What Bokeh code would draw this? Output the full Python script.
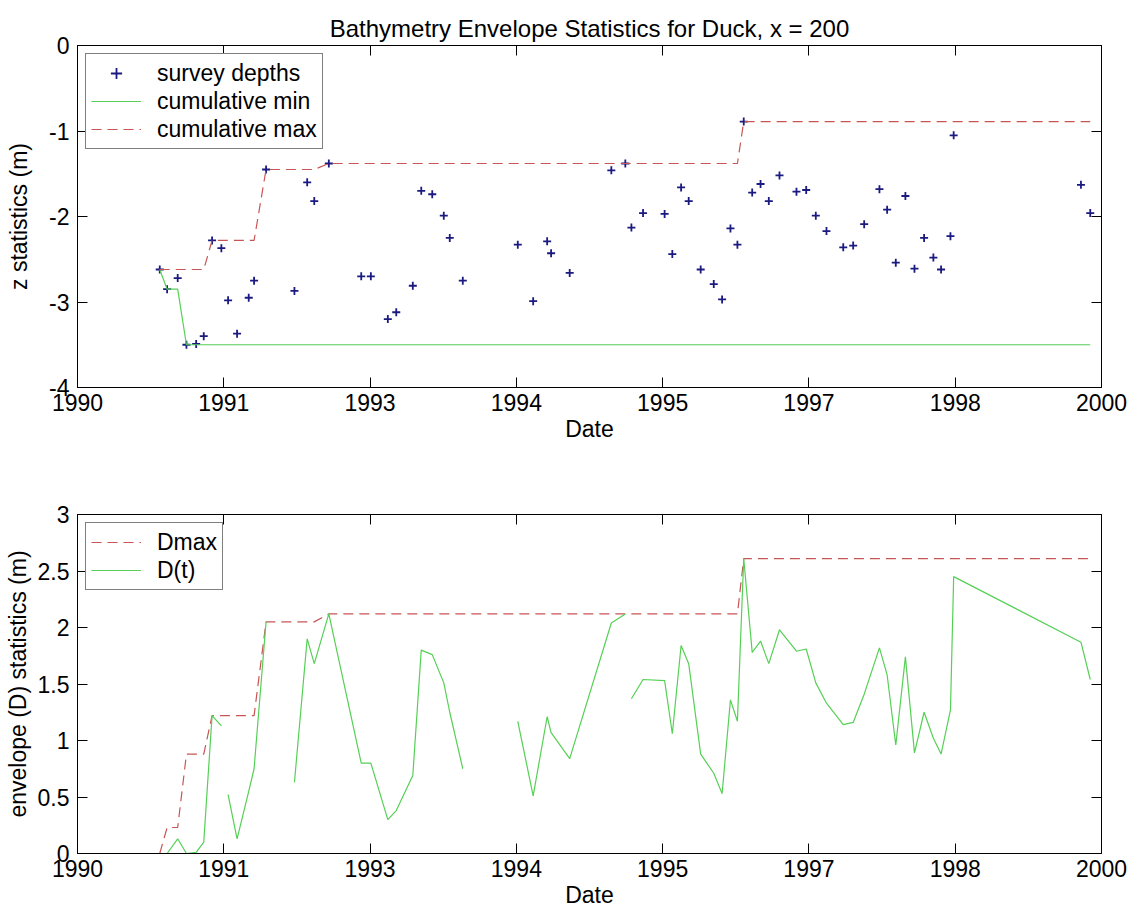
import numpy as np
from datetime import datetime, timedelta
from bokeh.plotting import figure
from bokeh.layouts import column
from bokeh.models import (Range1d, FixedTicker, DatetimeAxis, LinearAxis,
                          CustomJSTickFormatter, Legend, LegendItem, ColumnDataSource)
from bokeh.embed import file_html
from bokeh.resources import INLINE

# ---------------- data ----------------
TITLE = "Bathymetry Envelope Statistics for Duck, x = 200"
X_LABEL = "Date"
Y1_LABEL = "z statistics (m)"
Y2_LABEL = "envelope (D) statistics (m)"

# survey dates (decimal years) and depth z (m) at x = 200; None = survey without a value
SURVEY_YEAR = [
    1991.225, 1991.294, 1991.393, 1991.475, 1991.566, 1991.637, 1991.715, 1991.802,
    1991.830, 1991.865, 1991.949, 1992.058, 1992.108, 1992.220, 1992.350, 1992.485,
    1992.604, 1992.670, 1992.806, 1993.109, 1993.199, 1993.358, 1993.437, 1993.592,
    1993.671, 1993.774, 1993.882, 1993.938, 1994.060, 1994.300, 1994.575, 1994.719,
    1994.850, 1994.887, 1995.061, 1995.451, 1995.582, 1995.610, 1995.639, 1995.748,
    1995.950, 1996.022, 1996.104, 1996.175, 1996.287, 1996.409, 1996.487, 1996.565,
    1996.630, 1996.689, 1996.768, 1996.846, 1996.923, 1997.023, 1997.182, 1997.273,
    1997.363, 1997.463, 1997.620, 1997.713, 1997.816, 1997.959, 1998.031, 1998.112,
    1998.202, 1998.287, 1998.377, 1998.464, 1998.536, 1998.624, 1998.654, 1999.846,
    1999.933,
]
SURVEY_Z = [
    -2.62, -2.85, -2.72, -3.50, -3.49, -3.40, -2.28, -2.37,
    None, -2.98, -3.37, -2.95, -2.75, -1.45, None, -2.87,
    -1.60, -1.82, -1.38, -2.70, -2.70, -3.20, -3.12, -2.81,
    -1.70, -1.74, -1.99, -2.25, -2.75, None, -2.33, -2.99,
    -2.29, -2.43, -2.66, -1.46, -1.38, None, -2.13, -1.96,
    -1.97, -2.44, -1.66, -1.82, -2.62, -2.79, -2.97, -2.14,
    -2.33, -0.89, -1.72, -1.62, -1.82, -1.52, -1.71, -1.69,
    -1.99, -2.17, -2.36, -2.34, -2.09, -1.68, -1.92, -2.54,
    -1.76, -2.61, -2.25, -2.48, -2.62, -2.23, -1.05, -1.63,
    -1.96,
]

XTICK_START = "1990-06-16"
XTICK_STEP_DAYS = 500
XTICK_LABELS = ["1990", "1991", "1993", "1994", "1995", "1997", "1998", "2000"]
Z_TICKS = [-4, -3, -2, -1, 0]
D_TICKS = [0, 0.5, 1, 1.5, 2, 2.5, 3]

# ---------------- derived series ----------------
def to_dt(y):
    yr = int(y)
    start = datetime(yr, 1, 1)
    n = (datetime(yr + 1, 1, 1) - start).days
    return start + timedelta(days=(y - yr) * n)

dates = [to_dt(y) for y in SURVEY_YEAR]
z = np.array([np.nan if v is None else v for v in SURVEY_Z], dtype=float)
cmin = np.fmin.accumulate(z)
cmax = np.fmax.accumulate(z)
D = z - cmin
Dmax = cmax - cmin

src = ColumnDataSource(dict(t=dates, z=z, cmin=cmin, cmax=cmax, D=D, Dmax=Dmax))

t0 = datetime.strptime(XTICK_START, "%Y-%m-%d")
tick_dates = [t0 + timedelta(days=XTICK_STEP_DAYS * k) for k in range(len(XTICK_LABELS))]
epoch = datetime(1970, 1, 1)
tick_ms = [int((d - epoch).total_seconds() * 1000) for d in tick_dates]

FONT = "Liberation Sans"
FS = "23px"
GREEN = "#55d055"
RED = "#c85555"
BLUE = "#1a1a80"


def style_axis(ax):
    ax.axis_line_color = "black"
    ax.axis_line_width = 1
    ax.major_tick_line_color = "black"
    ax.major_tick_in = 10
    ax.major_tick_out = 0
    ax.minor_tick_line_color = None
    ax.major_label_text_font = FONT
    ax.major_label_text_font_size = FS
    ax.major_label_text_color = "black"
    ax.axis_label_text_font = FONT
    ax.axis_label_text_font_size = FS
    ax.axis_label_text_font_style = "normal"
    ax.axis_label_text_color = "black"


def make_fig(y0, y1, frame_h, top, bottom, yticks, ylabel, ylabel_standoff):
    p = figure(frame_width=1024, frame_height=frame_h, x_axis_type="datetime",
               x_range=Range1d(tick_dates[0], tick_dates[-1]), y_range=Range1d(y0, y1),
               output_backend="svg", toolbar_location=None,
               min_border_left=77, min_border_right=32, min_border_top=top,
               min_border_bottom=bottom, background_fill_color="white",
               border_fill_color="white")
    p.grid.visible = False
    p.outline_line_color = "black"
    xa = p.below[0]
    xa.ticker = FixedTicker(ticks=tick_ms)
    xa.major_label_overrides = dict(zip(tick_ms, XTICK_LABELS))
    xa.axis_label = X_LABEL
    xa.major_label_standoff = 6
    xa.axis_label_standoff = 2
    style_axis(xa)
    ya = p.left[0]
    ya.ticker = FixedTicker(ticks=yticks)
    ya.major_label_overrides = {t: "%g" % t for t in yticks}
    ya.axis_label = ylabel
    ya.major_label_standoff = 8
    ya.axis_label_standoff = ylabel_standoff
    style_axis(ya)
    # ticks on the top and right edges (no labels)
    top_ax = DatetimeAxis(ticker=FixedTicker(ticks=tick_ms),
                          formatter=CustomJSTickFormatter(code="return ''"))
    style_axis(top_ax)
    top_ax.major_label_text_font_size = "0px"
    top_ax.major_label_standoff = 0
    p.add_layout(top_ax, "above")
    right_ax = LinearAxis(ticker=FixedTicker(ticks=yticks),
                          formatter=CustomJSTickFormatter(code="return ''"))
    style_axis(right_ax)
    right_ax.major_label_text_font_size = "0px"
    right_ax.major_label_standoff = 0
    p.add_layout(right_ax, "right")
    return p


def style_legend(lg):
    lg.location = "top_left"
    lg.margin = 8
    lg.padding = 5
    lg.spacing = 0
    lg.label_height = 28
    lg.glyph_height = 28
    lg.glyph_width = 50
    lg.label_standoff = 16
    lg.label_text_font = FONT
    lg.label_text_font_size = FS
    lg.label_text_color = "black"
    lg.border_line_color = "black"
    lg.border_line_width = 1
    lg.background_fill_color = "white"
    lg.background_fill_alpha = 1


# ---------------- top panel ----------------
p1 = make_fig(-4, 0, 342, 45, 74, Z_TICKS, Y1_LABEL, 14)
p1.title.text = TITLE
p1.title.align = "center"
p1.title.text_font = FONT
p1.title.text_font_size = "24px"
p1.title.text_font_style = "normal"
p1.title.text_color = "black"
p1.title.standoff = 8

r_pts = p1.scatter("t", "z", source=src, marker="cross", size=8, line_width=1.8, color=BLUE)
r_min = p1.line("t", "cmin", source=src, line_color=GREEN, line_width=1.2)
r_max = p1.line("t", "cmax", source=src, line_color=RED, line_width=1.2, line_dash="10 6")
lg1 = Legend(items=[LegendItem(label="survey depths", renderers=[r_pts]),
                    LegendItem(label="cumulative min", renderers=[r_min]),
                    LegendItem(label="cumulative max", renderers=[r_max])])
style_legend(lg1)
p1.add_layout(lg1)

# ---------------- bottom panel ----------------
p2 = make_fig(0, 3, 339, 53, 62, D_TICKS, Y2_LABEL, 4)
r_dmax = p2.line("t", "Dmax", source=src, line_color=RED, line_width=1.2, line_dash="10 6")
r_d = p2.line("t", "D", source=src, line_color=GREEN, line_width=1.2)
lg2 = Legend(items=[LegendItem(label="Dmax", renderers=[r_dmax]),
                    LegendItem(label="D(t)", renderers=[r_d])])
style_legend(lg2)
p2.add_layout(lg2)

layout = column(p1, p2, spacing=0)
open("out.html", "w").write(file_html(layout, INLINE))
